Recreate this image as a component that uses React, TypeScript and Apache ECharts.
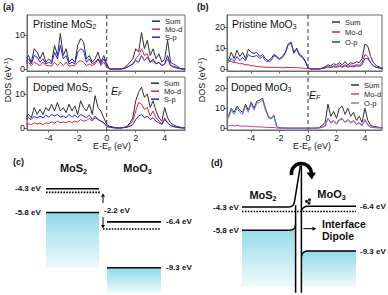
import React, { useEffect, useRef } from 'react';
import * as echarts from 'echarts';

const FONT = '"Liberation Sans", Arial, Helvetica, sans-serif';
const INK = '#111';
const FRAME = '#6a6a6a';

// Energy sampling (eV, E - E_F)
const energyGrid = [-5.6, -5.4, -5.2, -5.0, -4.8, -4.6, -4.4, -4.2, -4.0, -3.8,
  -3.6, -3.4, -3.2, -3.0, -2.8, -2.6, -2.4, -2.2, -2.0, -1.8,
  -1.6, -1.4, -1.2, -1.0, -0.8, -0.6, -0.4, -0.2, 0, 0.2,
  0.4, 0.6, 0.8, 1.0, 1.2, 1.4, 1.6, 1.8, 2.0, 2.2,
  2.4, 2.6, 2.8, 3.0, 3.2, 3.4, 3.6, 3.8, 4.0, 4.2,
  4.4, 4.6, 4.8, 5.0, 5.2, 5.4];

// (a) Pristine MoS2
const aTopSum = [3, 4, 2, 6, 5, 3, 5, 2, 3, 2, 7, 4, 10.5, 4, 6, 2, 3, 2, 7, 9, 8, 3, 4, 2, 3, 5, 2, 4, 1.5, 0, 0, 0, 0, 0, 0.3, 1, 2, 3, 6, 5, 10.8, 6, 8.5, 4, 6, 3, 4.5, 2, 3, 8.5, 2, 1.5, 1, 0.3, 0, 0];
const aTopMo = [1.5, 2, 1, 2, 1.5, 1, 2, 1, 1, 0.8, 2, 1, 2, 1, 2, 0.8, 1, 1, 2, 2.5, 2, 1, 1.5, 1, 1.5, 3, 1, 2, 0.5, 0, 0, 0, 0, 0, 0.2, 0.5, 1, 1.5, 3, 4, 6, 4, 4.5, 2, 3, 1.5, 2, 1, 1.5, 3, 1, 0.5, 0.3, 0.1, 0, 0];
const aTopSp = [2, 3, 1.5, 4, 3.5, 2, 3, 1.5, 2, 1.5, 5, 3, 7, 3, 4, 1.5, 2, 1.5, 5, 6, 5.5, 2, 3, 1.5, 2, 3, 1.5, 3, 1, 0, 0, 0, 0, 0, 0.1, 0.5, 1, 1.5, 2.5, 2, 4, 2.5, 3.5, 2, 2.5, 1.5, 2, 1, 1.5, 4, 1, 0.8, 0.5, 0.2, 0, 0];
// (a) Doped MoS2
const aBotSum = [3, 4, 3, 6, 4, 5.5, 4, 6, 5, 7, 5, 7.5, 5, 6, 4.5, 7, 5, 6.5, 4, 8, 6, 5, 7, 4, 9.5, 6, 5, 3, 1, 0.5, 0.3, 0.1, 0, 0, 0.2, 0.5, 1.5, 3, 8, 10.5, 12, 9, 10, 6, 8, 5, 3, 2, 6, 3, 1.5, 1, 0.5, 0.3, 0.1, 0];
const aBotMo = [1, 1.2, 1, 1.5, 1.2, 1.4, 1, 1.5, 1.3, 1.8, 1.4, 2, 1.5, 1.8, 1.5, 2, 1.6, 2, 1.7, 2.5, 2, 2.2, 2.8, 2, 3, 2.5, 2, 1.5, 0.5, 0.3, 0.1, 0, 0, 0, 0.1, 0.3, 1, 2, 5, 7.5, 7, 5.5, 6, 3.5, 5, 3, 2, 1.2, 3, 1.5, 0.8, 0.5, 0.3, 0.1, 0, 0];
const aBotSp = [2.5, 3, 2.5, 3.5, 3, 3.5, 3, 3.8, 3.2, 4, 3.5, 4, 3.2, 3.5, 3, 4, 3.2, 3.8, 3, 4, 3.5, 3, 3.8, 2.5, 3.5, 2.5, 2, 1.5, 0.5, 0.2, 0.1, 0, 0, 0, 0.1, 0.2, 0.5, 1, 2.5, 3.5, 4, 3, 3.5, 2.5, 3, 2, 1.5, 1, 2.5, 1.5, 0.7, 0.4, 0.2, 0.1, 0, 0];
// (b) Pristine MoO3
const bTopSum = [4, 8, 5, 9, 6, 8, 5, 9.5, 8, 7.5, 8, 6, 7, 5, 4, 5, 7, 6, 5, 6, 8, 12, 13, 8, 10, 7, 6, 4, 0.5, 0, 0, 0, 0, 0.5, 1, 2, 1.5, 2.5, 2, 3, 2, 3.5, 2, 3, 2.5, 3.5, 3, 5, 12, 11, 6, 3, 1.5, 1, 0.3, 0];
const bTopMo = [4, 3.5, 3, 3, 2.5, 2.5, 2, 2, 1.5, 1.5, 1.2, 1, 1, 0.8, 0.8, 0.7, 0.8, 0.7, 0.6, 0.6, 0.6, 0.7, 0.7, 0.6, 0.6, 0.5, 0.4, 0.3, 0.1, 0, 0, 0, 0, 0.3, 0.6, 1, 0.8, 1.5, 1.2, 2, 1.2, 2, 1.3, 2, 1.5, 2, 1.8, 3, 7, 6, 3, 1.5, 0.8, 0.5, 0.2, 0];
const bTopOp = [3, 5, 3.5, 6, 4, 5.5, 4, 7, 6, 6, 6.5, 5, 6, 4, 3.5, 4, 6.5, 5.5, 4.5, 5.5, 7.5, 11.5, 12.5, 7.5, 9.5, 6.5, 5.5, 3.5, 0.4, 0, 0, 0, 0, 0.2, 0.4, 1, 0.7, 1, 0.8, 1.2, 0.8, 1.5, 0.8, 1.2, 1, 1.5, 1.2, 2, 5, 5, 3, 1.5, 0.7, 0.5, 0.1, 0];
// (b) Doped MoO3
const bBotSum = [6, 10, 8, 11, 9, 8, 12, 9, 13, 10, 13.5, 14, 15, 10, 6, 5, 6.5, 0.8, 0.3, 0.2, 0.2, 0.1, 0.1, 0.1, 0.1, 0.1, 0.1, 0.1, 0.1, 0.1, 0.1, 0.2, 0.5, 1.5, 3, 12, 6, 8.5, 5, 10, 11, 7, 10, 6, 8, 4, 6, 3, 10, 4, 1.5, 1, 0.8, 0.5, 0.2, 0];
const bBotMo = [1.2, 1.5, 1.2, 1.5, 1.2, 1, 1.2, 1, 1, 0.8, 0.8, 0.7, 0.7, 0.5, 0.5, 0.4, 0.4, 0.2, 0.1, 0.1, 0.1, 0.1, 0.1, 0.1, 0.1, 0.1, 0.1, 0.1, 0.1, 0.1, 0.1, 0.1, 0.3, 0.8, 1.5, 5, 3, 4, 2.5, 4.5, 5, 3, 4.5, 3, 4, 2, 3, 1.5, 4.5, 2, 0.8, 0.5, 0.4, 0.3, 0.1, 0];
const bBotOp = [5, 9, 7, 10, 8, 7, 11, 8, 12, 9, 12.5, 13, 14, 9, 5.5, 4.5, 6, 0.6, 0.2, 0.1, 0.1, 0.1, 0.1, 0.1, 0.1, 0.1, 0.1, 0.1, 0.1, 0.1, 0.1, 0.1, 0.2, 0.5, 1, 5, 2.5, 3.5, 2, 4, 4.5, 3, 4, 2.5, 3.5, 2, 2.5, 1.2, 4, 1.5, 0.5, 0.4, 0.3, 0.2, 0.1, 0];

const xTicks = [-4, -2, 0, 2, 4];
const yTicksA = [0, 10];
const yTicksB = [0, 10, 20];

// (c) flat-band energy levels (eV)
const cLevelValues = [-4.3, -5.8, -6.4, -9.3];
const cLevelLabels = ['-4.3 eV', '-5.8 eV', '-6.4 eV', '-9.3 eV'];
const cFermi = [-4.53, -6.85];
const cFillBottoms = [-9.3, -10.9];
const cArrows = [[-5.2, -4.58], [-6.1, -6.82]];
const cGapLabel = '-2.2 eV';
const cGapLabelE = -5.65;

// (d) aligned levels with interface dipole
const dLevelValues = [-4.3, -5.8, -6.4, -9.3];
const dLevelLabels = ['-4.3 eV', '-5.8 eV', '-6.4 eV', '-9.3 eV'];
const dDipoleShift = 2.15;
const dFermi = -4.58;
const dSpikeTop = -1.6;
const dFillBottom = -9.45;
const dLineBottom = -9.85;
const dArrowE = -5.7;
const dElectrons = [[306.5, -3.93], [309.5, -3.83], [309, -4.05]];

const C = {
  sum: '#303030',
  mo: '#d4243f',
  sp: '#2424e2',
  opTop: '#2f3ad0',
  moBot: '#cf3d6e',
  opBot: '#7676e4',
};
const CYAN_TOP = '#8fd9e8';
const CYAN_BOT = '#effafc';

const cyanGrad = () => new echarts.graphic.LinearGradient(0, 0, 0, 1, [
  { offset: 0, color: CYAN_TOP },
  { offset: 1, color: CYAN_BOT },
]);

function dos(name: string, arr: number[], color: string, idx: number) {
  return {
    type: 'line', name, xAxisIndex: idx, yAxisIndex: idx,
    data: energyGrid.map((x, i) => [x, arr[i]]),
    symbol: 'none', showSymbol: false, clip: true, silent: true,
    lineStyle: { color, width: 1 }, itemStyle: { color },
  };
}

function xAxisFor(gridIndex: number, min: number, max: number, labels: boolean) {
  return {
    type: 'value', gridIndex, min, max,
    axisLine: { show: true, onZero: false, lineStyle: { color: FRAME, width: 1 } },
    axisTick: { show: true, length: 2.5, customValues: xTicks, lineStyle: { color: FRAME } },
    axisLabel: { show: labels, customValues: xTicks, fontSize: 9, color: '#222', fontFamily: FONT, margin: 3 },
    splitLine: { show: false },
  };
}
function yAxisFor(gridIndex: number, min: number, max: number, ticks: number[]) {
  return {
    type: 'value', gridIndex, min, max,
    axisLine: { show: true, onZero: false, lineStyle: { color: FRAME, width: 1 } },
    axisTick: { show: true, length: 3, customValues: ticks, lineStyle: { color: FRAME } },
    axisLabel: { customValues: ticks, fontSize: 9, color: '#222', fontFamily: FONT, margin: 2 },
    splitLine: { show: false },
  };
}
function legendFor(left: number, top: number, lh: number, gap: number, items: [string, string][]) {
  return {
    left, top, orient: 'vertical', icon: 'rect', itemWidth: 8, itemHeight: 1.5, itemGap: gap,
    padding: 0, selectedMode: false,
    data: items.map(([name, color]) => ({ name, itemStyle: { color } })),
    textStyle: { fontSize: 7.5, lineHeight: lh, color: '#222', fontFamily: FONT },
  };
}

function sub(main: string, s: string, size: number, weight = 'normal', style = 'normal', sup = false, tail = '') {
  const base = { fontSize: size, fontFamily: FONT, fontWeight: weight, fontStyle: style, fill: INK, lineHeight: size + 2 };
  const small = { fontSize: size * 0.66, fontFamily: FONT, fontWeight: weight, fontStyle: style, fill: INK, lineHeight: size * 0.45, verticalAlign: sup ? 'top' : 'bottom' };
  return {
    text: `{m|${main}}{s|${s}}` + (tail ? `{m|${tail}}` : ''),
    rich: { m: base, s: small },
  };
}

function labelText(text: string, x: number, y: number, font: string, align = 'left') {
  return { type: 'text', style: { text, x, y, font, fill: INK, align, verticalAlign: 'middle' } };
}

function renderC(_p: any, api: any) {
  const P = (x: number, e: number) => api.coord([x, e]);
  const kids: any[] = [];
  const [mCB, mVB, oCB, oVB] = cLevelValues;
  const mos2 = [46, 99];
  const moo3 = [107, 161];
  const rect = (x1: number, x2: number, e1: number, e2: number) => {
    const a = P(x1, e1); const b = P(x2, e2);
    return { type: 'rect', shape: { x: a[0], y: a[1], width: b[0] - a[0], height: b[1] - a[1] }, style: { fill: cyanGrad() } };
  };
  const hline = (x1: number, x2: number, e: number, dotted: boolean) => {
    const a = P(x1, e); const b = P(x2, e);
    const style: any = { stroke: '#000', lineWidth: 1.6 };
    if (dotted) style.lineDash = [1.6, 1.3];
    return { type: 'line', shape: { x1: a[0], y1: a[1], x2: b[0], y2: b[1] }, style };
  };
  const varrow = (x: number, e1: number, e2: number) => {
    const a = P(x, e1); const b = P(x, e2);
    const dir = Math.sign(b[1] - a[1]);
    const h = 3.5;
    return [
      { type: 'line', shape: { x1: a[0], y1: a[1], x2: b[0], y2: b[1] - dir * h }, style: { stroke: '#000', lineWidth: 1 } },
      { type: 'polygon', shape: { points: [[b[0], b[1]], [b[0] - 2, b[1] - dir * h], [b[0] + 2, b[1] - dir * h]] }, style: { fill: '#000' } },
    ];
  };
  kids.push(rect(mos2[0], mos2[1], mVB, cFillBottoms[0]));
  kids.push(rect(moo3[0], moo3[1], oVB, cFillBottoms[1]));
  kids.push(hline(mos2[0], mos2[1], mCB, false), hline(mos2[0], mos2[1], mVB, false));
  kids.push(hline(moo3[0], moo3[1], oCB, false), hline(moo3[0], moo3[1], oVB, false));
  kids.push(hline(mos2[0], 101, cFermi[0], true), hline(103, moo3[1], cFermi[1], true));
  kids.push(...varrow(103, cArrows[0][0], cArrows[0][1]));
  kids.push(...varrow(103, cArrows[1][0], cArrows[1][1]));
  const f = `bold 8px ${FONT}`;
  kids.push(labelText(cLevelLabels[0], 15, P(0, mCB)[1], f));
  kids.push(labelText(cLevelLabels[1], 15, P(0, mVB)[1], f));
  kids.push(labelText(cLevelLabels[2], 166, P(0, oCB)[1], f));
  kids.push(labelText(cLevelLabels[3], 166, P(0, oVB)[1], f));
  kids.push(labelText(cGapLabel, 104, P(0, cGapLabelE)[1], f));
  return { type: 'group', children: kids };
}

function renderD(_p: any, api: any) {
  const P = (x: number, e: number) => api.coord([x, e]);
  const kids: any[] = [];
  const [mCB, mVB, oCB, oVB] = dLevelValues;
  const xL = P(242, 0)[0], xIL = P(295.6, 0)[0], xIR = P(301.4, 0)[0], xR = P(356, 0)[0];
  const yCB = P(242, mCB)[1], yVB = P(242, mVB)[1];
  const yOC = P(356, oCB + dDipoleShift)[1], yOV = P(356, oVB + dDipoleShift)[1];
  const yTop = P(300, dSpikeTop)[1], yFB = P(300, dFillBottom)[1], yLB = P(300, dLineBottom)[1];
  const stroke = { stroke: '#000', lineWidth: 1.5, fill: 'none' };
  const path = (d: string, style: any) => ({ type: 'path', shape: { pathData: d }, style });
  kids.push(path(`M${xL},${yVB} H${xIL - 6} Q${xIL},${yVB} ${xIL},${yVB - 6} V${yFB} H${xL} Z`, { fill: cyanGrad() }));
  kids.push(path(`M${xIR + 0.5},${yOV + 5} Q${xIR + 1},${yOV} ${xIR + 7},${yOV} H${xR} V${yFB} H${xIR + 0.5} Z`, { fill: cyanGrad() }));
  kids.push(path(`M${xL},${yCB} H${xIL - 7} Q${xIL - 1.5},${yCB} ${xIL - 1},${yCB - 6} L${xIR - 1},${yTop}`, stroke));
  kids.push(path(`M${xIL},${yCB - 2} V${yLB}`, stroke));
  kids.push(path(`M${xL},${yVB} H${xIL - 6} Q${xIL},${yVB} ${xIL},${yVB - 6}`, stroke));
  kids.push(path(`M${xIR},${yTop} V${yLB}`, stroke));
  kids.push(path(`M${xIR},${yOC + 5} Q${xIR + 1},${yOC} ${xIR + 7},${yOC} H${xR}`, stroke));
  kids.push(path(`M${xIR},${yOV + 5} Q${xIR + 1},${yOV} ${xIR + 7},${yOV} H${xR}`, stroke));
  const yF = P(300, dFermi)[1];
  kids.push({ type: 'line', shape: { x1: xL, y1: yF, x2: xR, y2: yF }, style: { stroke: '#000', lineWidth: 1.5, lineDash: [1.6, 1.3] } });
  const yA = P(300, dArrowE)[1];
  kids.push({ type: 'line', shape: { x1: xIR + 2, y1: yA, x2: xIR + 11, y2: yA }, style: { stroke: '#000', lineWidth: 1 } });
  kids.push({ type: 'polygon', shape: { points: [[xIR + 15, yA], [xIR + 11, yA - 2], [xIR + 11, yA + 2]] }, style: { fill: '#000' } });
  dElectrons.forEach(([x, e]) => {
    const c = P(x, e);
    kids.push({ type: 'circle', shape: { cx: c[0], cy: c[1], r: 1.6 }, style: { fill: '#222' } });
  });
  const cx = xIR, cy = yTop + 8, r = 10;
  kids.push({ type: 'arc', shape: { cx, cy, r, startAngle: Math.PI - 0.15, endAngle: 2 * Math.PI - 0.05, clockwise: true }, style: { stroke: '#000', lineWidth: 3.5, fill: 'none' } });
  kids.push({ type: 'polygon', shape: { points: [[cx + r - 5, cy - 1], [cx + r + 4.5, cy - 1], [cx + r + 0.5, cy + 6]] }, style: { fill: '#000' } });
  const f = `bold 8px ${FONT}`;
  kids.push(labelText(dLevelLabels[0], 213, yCB, f));
  kids.push(labelText(dLevelLabels[1], 213, yVB, f));
  kids.push(labelText(dLevelLabels[2], 360, yOC, f));
  kids.push(labelText(dLevelLabels[3], 360, yOV, f));
  return { type: 'group', children: kids };
}

function buildOption() {
  return {
    animation: false,
    grid: [
      { left: 27, top: 15, width: 158, height: 56, show: true, borderColor: FRAME, borderWidth: 1 },
      { left: 27, top: 77, width: 158, height: 53, show: true, borderColor: FRAME, borderWidth: 1 },
      { left: 227, top: 15, width: 155, height: 56, show: true, borderColor: FRAME, borderWidth: 1 },
      { left: 227, top: 77, width: 155, height: 53, show: true, borderColor: FRAME, borderWidth: 1 },
      { left: 0, top: 168.2, width: 194, height: 126.4, show: false },
      { left: 194, top: 156.15, width: 194, height: 139.5, show: false },
    ],
    xAxis: [
      xAxisFor(0, -5.5, 5.4, false),
      xAxisFor(1, -5.5, 5.4, true),
      xAxisFor(2, -5.7, 5.2, false),
      xAxisFor(3, -5.7, 5.2, true),
      { type: 'value', gridIndex: 4, min: 0, max: 194, show: false },
      { type: 'value', gridIndex: 5, min: 194, max: 388, show: false },
    ],
    yAxis: [
      yAxisFor(0, -0.6, 16, yTicksA),
      yAxisFor(1, -0.6, 15, yTicksA),
      yAxisFor(2, -1, 26, yTicksB),
      yAxisFor(3, -0.8, 25.5, yTicksB),
      { type: 'value', gridIndex: 4, min: -11, max: -3, show: false },
      { type: 'value', gridIndex: 5, min: -10, max: -1, show: false },
    ],
    legend: [
      legendFor(152, 17.2, 7.5, 0, [['Sum', C.sum], ['Mo-d', C.mo], ['S-p', C.sp]]),
      legendFor(151, 79.2, 7.6, 0, [['Sum', C.sum], ['Mo-d', C.mo], ['S-p', C.sp]]),
      legendFor(332, 18, 8, 2, [['Sum', C.sum], ['Mo-d', C.mo], ['O-p', C.opTop]]),
      legendFor(351, 81, 8, 1, [['Sum', C.sum], ['Mo-d', C.moBot], ['O-p', C.opBot]]),
    ],
    series: [
      dos('Sum', aTopSum, C.sum, 0), dos('Mo-d', aTopMo, C.mo, 0), dos('S-p', aTopSp, C.sp, 0),
      dos('Sum', aBotSum, C.sum, 1), dos('Mo-d', aBotMo, C.mo, 1), dos('S-p', aBotSp, C.sp, 1),
      dos('Sum', bTopSum, C.sum, 2), dos('Mo-d', bTopMo, C.mo, 2), dos('O-p', bTopOp, C.opTop, 2),
      dos('Sum', bBotSum, C.sum, 3), dos('Mo-d', bBotMo, C.moBot, 3), dos('O-p', bBotOp, C.opBot, 3),
      { type: 'custom', xAxisIndex: 4, yAxisIndex: 4, data: [[100, -6]], renderItem: renderC, silent: true, clip: false },
      { type: 'custom', xAxisIndex: 5, yAxisIndex: 5, data: [[300, -6]], renderItem: renderD, silent: true, clip: false },
    ],
  };
}

function gtext(style: any, x: number, y: number, extra: any = {}) {
  return { type: 'text', x, y, silent: true, style: { fill: INK, verticalAlign: 'middle', align: 'left', ...style }, ...extra };
}

function buildGraphic(chart: any) {
  const els: any[] = [];
  const dash = (gTop: number, gBot: number, yTop: number, yBot: number) => {
    const a = chart.convertToPixel({ gridIndex: gTop }, [0, yTop]);
    const b = chart.convertToPixel({ gridIndex: gBot }, [0, yBot]);
    return { type: 'line', silent: true, shape: { x1: a[0], y1: a[1], x2: b[0], y2: b[1] }, style: { stroke: '#333', lineWidth: 1, lineDash: [4, 3] } };
  };
  els.push(dash(0, 1, 16, -0.6));
  els.push(dash(2, 3, 26, -0.8));
  const bold9 = `bold 9px ${FONT}`;
  els.push(gtext({ text: '(a)', font: bold9 }, 3, 7));
  els.push(gtext({ text: '(b)', font: bold9 }, 197, 7));
  els.push(gtext({ text: '(c)', font: bold9 }, 13, 161.5));
  els.push(gtext({ text: '(d)', font: bold9 }, 211, 163));
  els.push(gtext(sub('Pristine MoS', '2', 10.5), 33, 24));
  els.push(gtext(sub('Doped MoS', '2', 10.5), 33, 87));
  els.push(gtext(sub('Pristine MoO', '3', 10.5), 232, 24));
  els.push(gtext(sub('Doped MoO', '3', 10.5), 231, 87));
  els.push(gtext(sub('E', 'F', 10.5, 'normal', 'italic'), 111, 91));
  els.push(gtext(sub('E', 'F', 10.5, 'normal', 'italic'), 309, 95));
  els.push(gtext({ ...sub('DOS (eV', '-1', 9, 'normal', 'normal', true, ')'), align: 'center' }, 8, 80, { rotation: Math.PI / 2 }));
  els.push(gtext({ ...sub('DOS (eV', '-1', 9, 'normal', 'normal', true, ')'), align: 'center' }, 202, 80, { rotation: Math.PI / 2 }));
  els.push(gtext({ ...sub('E-E', 'F', 9, 'normal', 'normal', false, ' (eV)'), align: 'center' }, 112, 146));
  els.push(gtext({ ...sub('E-E', 'F', 9, 'normal', 'normal', false, ' (eV)'), align: 'center' }, 312, 146));
  els.push(gtext({ ...sub('MoS', '2', 11, 'bold'), align: 'center' }, 73.5, 168));
  els.push(gtext({ ...sub('MoO', '3', 11, 'bold'), align: 'center' }, 137.5, 168));
  els.push(gtext({ ...sub('MoS', '2', 11, 'bold'), align: 'center' }, 263, 195));
  els.push(gtext({ ...sub('MoO', '3', 11, 'bold'), align: 'center' }, 331.5, 194));
  els.push(gtext({ text: 'Interface', font: `bold 10.5px ${FONT}` }, 322, 224));
  els.push(gtext({ text: 'Dipole', font: `bold 10.5px ${FONT}` }, 322, 236));
  return els;
}

export default function App() {
  const ref = useRef<HTMLDivElement>(null);
  useEffect(() => {
    document.body.style.margin = '0';
    const chart = echarts.init(ref.current!, null, { renderer: 'svg' });
    chart.setOption(buildOption() as any);
    chart.setOption({ graphic: buildGraphic(chart) } as any);
    return () => chart.dispose();
  }, []);
  return <div ref={ref} style={{ width: 388, height: 295, background: '#fff' }} />;
}
